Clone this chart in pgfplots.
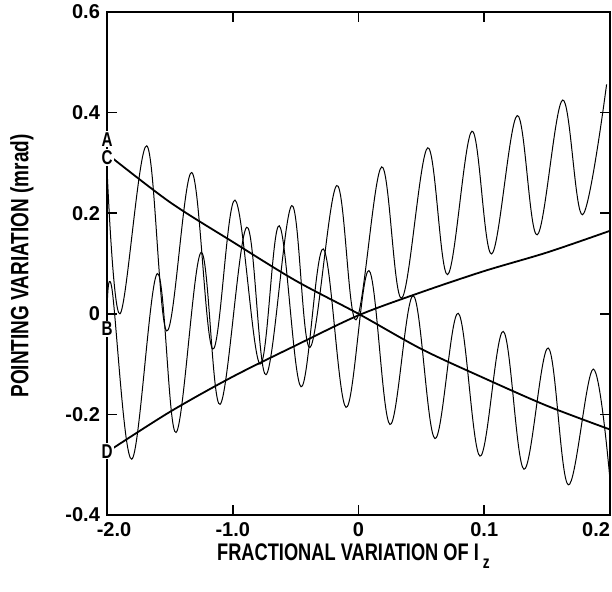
\documentclass[border=0pt]{standalone}
\usepackage{pgfplots}
\pgfplotsset{compat=1.18}
\usepackage{fontspec}
\setmainfont{Liberation Sans}
\newfontfamily\lbl[FakeStretch=0.76]{Liberation Sans}
\begin{document}
\begin{tikzpicture}
\begin{axis}[
  scale only axis, width=251.5pt, height=251.5pt,
  xmin=-0.2, xmax=0.2, ymin=-0.4, ymax=0.6,
  xtick={-0.2,-0.1,0,0.1,0.2}, xticklabels={\hspace*{7pt}-2.0,-1.0,0,0.1,\makebox[0pt][r]{0.2}},
  ytick={-0.4,-0.2,0,0.2,0.4,0.6}, yticklabels={-0.4,-0.2,0,0.2,0.4,0.6},
  tick align=inside, major tick length=5pt,
  every tick/.style={black, line width=0.8pt},
  axis line style={line width=1.1pt},
  tick label style={font=\bfseries\fontsize{10}{10}\selectfont},
  xlabel={FRACTIONAL VARIATION OF I\,\raisebox{-0.7ex}{\fontsize{9}{9}\selectfont z}},
  ylabel={POINTING VARIATION (mrad)},
  every axis x label/.style={at={(axis description cs:0.49,-0.0895)}, anchor=base, font=\lbl\bfseries\fontsize{12}{12}\selectfont},
  every axis y label/.style={at={(axis description cs:-0.169,0.495)}, rotate=90, anchor=center, font=\lbl\bfseries\fontsize{12.5}{12.5}\selectfont},
  clip mode=individual,
]
% curve starting near A (oscillation with falling mean)
\addplot[black, line width=0.5pt, smooth, tension=0.6] coordinates {
(-0.2000,0.290) (-0.1897,0.000) (-0.1684,0.334) (-0.1525,-0.034) (-0.1326,0.281) (-0.1159,-0.070) (-0.0982,0.226) (-0.0783,-0.100) (-0.0630,0.175) (-0.0457,-0.145) (-0.0280,0.129) (-0.0099,-0.186) (0.0083,0.086) (0.0250,-0.220) (0.0436,0.036) (0.0608,-0.248) (0.0793,0.001) (0.0966,-0.283) (0.1151,-0.035) (0.1316,-0.309) (0.1509,-0.068) (0.1668,-0.340) (0.1867,-0.110) (0.2000,-0.330)
};
% curve starting at B (oscillation with rising mean)
\addplot[black, line width=0.5pt, smooth, tension=0.6] coordinates {
(-0.2000,0.000) (-0.1962,0.052) (-0.1803,-0.289) (-0.1600,0.080) (-0.1451,-0.236) (-0.1252,0.122) (-0.1101,-0.180) (-0.0889,0.172) (-0.0735,-0.121) (-0.0531,0.215) (-0.0386,-0.067) (-0.0173,0.255) (-0.0020,-0.012) (0.0184,0.292) (0.0343,0.031) (0.0550,0.330) (0.0709,0.078) (0.0902,0.363) (0.1059,0.119) (0.1262,0.394) (0.1421,0.157) (0.1623,0.425) (0.1782,0.197) (0.1973,0.456)
};
% line C
\addplot[black, line width=0.9pt, smooth] coordinates {
(-0.2,0.318) (-0.15,0.222) (-0.1,0.143) (-0.05,0.066) (0,0) (0.05,-0.07) (0.1,-0.128) (0.15,-0.183) (0.2,-0.23)
};
% line D
\addplot[black, line width=0.9pt, smooth] coordinates {
(-0.2,-0.275) (-0.15,-0.195) (-0.1,-0.125) (-0.05,-0.063) (0,-0.003) (0.05,0.043) (0.1,0.085) (0.15,0.122) (0.2,0.165)
};
\node[fill=white, inner sep=0.6pt, font=\lbl\bfseries\fontsize{10}{10}\selectfont] at (axis cs:-0.2,0.347) {A};
\node[fill=white, inner sep=0.6pt, font=\lbl\bfseries\fontsize{10}{10}\selectfont] at (axis cs:-0.2,0.311) {C};
\node[fill=white, inner sep=0.6pt, font=\lbl\bfseries\fontsize{10}{10}\selectfont] at (axis cs:-0.2,-0.03) {B};
\node[fill=white, inner sep=0.6pt, font=\lbl\bfseries\fontsize{10}{10}\selectfont] at (axis cs:-0.2,-0.273) {D};
\end{axis}
\pgfresetboundingbox
\path[use as bounding box] (-53.5pt,-38pt) rectangle (252.5pt,257.5pt);
\end{tikzpicture}
\end{document}
